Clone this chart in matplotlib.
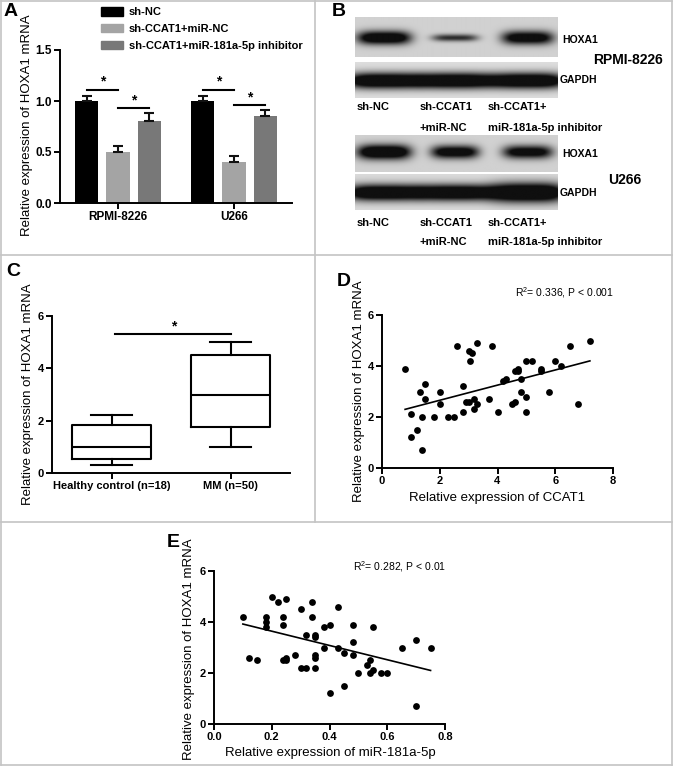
import numpy as np
import matplotlib
matplotlib.use("Agg")
import matplotlib.pyplot as plt
from matplotlib.lines import Line2D
from matplotlib.patches import Patch

plt.rcParams["font.family"] = ["Liberation Sans", "DejaVu Sans"]
plt.rcParams["mathtext.fontset"] = "custom"
plt.rcParams["mathtext.rm"] = "Liberation Sans"
plt.rcParams["axes.linewidth"] = 1.4
plt.rcParams["xtick.major.width"] = 1.4
plt.rcParams["ytick.major.width"] = 1.4
plt.rcParams["xtick.major.size"] = 4
plt.rcParams["ytick.major.size"] = 4

# ---- panel A: qPCR bars ----
a_groups = ["RPMI-8226", "U266"]
a_series = ["sh-NC", "sh-CCAT1+miR-NC", "sh-CCAT1+miR-181a-5p inhibitor"]
a_shnc = [1.00, 1.00]
a_shnc_err = [0.05, 0.05]
a_mirnc = [0.50, 0.40]
a_mirnc_err = [0.055, 0.06]
a_inhib = [0.80, 0.85]
a_inhib_err = [0.08, 0.065]
a_sig_first = [1.11, 1.11]   # sh-NC vs sh-CCAT1+miR-NC
a_sig_second = [0.93, 0.96]  # sh-CCAT1+miR-NC vs inhibitor

# ---- panel B: western blot lanes ----
b_lanes_row1 = ["sh-NC", "sh-CCAT1", "sh-CCAT1+"]
b_lanes_row2 = ["", "+miR-NC", "miR-181a-5p inhibitor"]
b_hoxa1_rpmi = [1.3, 0.8, 1.2]
b_hoxa1_u266 = [1.4, 1.2, 1.15]
b_gapdh_rpmi = [1.4, 1.4, 1.4]
b_gapdh_u266 = [1.4, 1.4, 1.5]

# ---- panel C: box plot ----
c_labels = ["Healthy control (n=18)", "MM (n=50)"]
c_whislo = [0.3, 1.0]
c_q1 = [0.55, 1.75]
c_med = [1.0, 3.0]
c_q3 = [1.85, 4.5]
c_whishi = [2.2, 5.0]
c_sig = 5.3

# ---- panel D: CCAT1 vs HOXA1 ----
d_x = [0.8, 1.0, 1.0, 1.2, 1.3, 1.4, 1.4, 1.5, 1.5, 1.8, 2.0, 2.0, 2.3, 2.5, 2.6,
       2.8, 2.8, 2.9, 3.0, 3.0, 3.06, 3.1, 3.2, 3.2, 3.3, 3.3, 3.7, 3.8, 4.0, 4.2,
       4.3, 4.5, 4.6, 4.6, 4.7, 4.7, 4.8, 4.8, 5.0, 5.0, 5.0, 5.2, 5.5, 5.5, 5.8,
       6.0, 6.2, 6.5, 6.8, 7.2]
d_y = [3.9, 2.1, 1.2, 1.5, 3.0, 2.0, 0.7, 3.3, 2.7, 2.0, 3.0, 2.5, 2.0, 2.0, 4.8,
       3.2, 2.2, 2.6, 4.6, 2.6, 4.2, 4.5, 2.7, 2.3, 2.5, 4.9, 2.7, 4.8, 2.2, 3.4,
       3.5, 2.5, 2.6, 3.8, 3.9, 3.8, 3.5, 3.0, 4.2, 2.8, 2.2, 4.2, 3.9, 3.8, 3.0,
       4.2, 4.0, 4.8, 2.5, 5.0]
d_fit_x = [0.8, 7.2]
d_fit_y = [2.3, 4.2]

# ---- panel E: miR-181a-5p vs HOXA1 ----
e_x = [0.10, 0.12, 0.15, 0.18, 0.18, 0.18, 0.20, 0.22, 0.24, 0.24, 0.24, 0.25, 0.25,
       0.25, 0.28, 0.30, 0.30, 0.32, 0.32, 0.34, 0.34, 0.35, 0.35, 0.35, 0.35, 0.35,
       0.38, 0.38, 0.40, 0.40, 0.43, 0.43, 0.45, 0.45, 0.48, 0.48, 0.48, 0.50, 0.53,
       0.54, 0.54, 0.55, 0.55, 0.58, 0.60, 0.65, 0.70, 0.70, 0.75]
e_y = [4.2, 2.6, 2.5, 4.2, 4.0, 3.8, 5.0, 4.8, 4.2, 3.9, 2.5, 4.9, 2.6,
       2.5, 2.7, 4.5, 2.2, 3.5, 2.2, 4.8, 4.2, 3.5, 3.4, 2.7, 2.6, 2.2,
       3.8, 3.0, 3.9, 1.2, 4.6, 3.0, 2.8, 1.5, 3.9, 3.2, 2.7, 2.0, 2.3,
       2.5, 2.0, 2.1, 3.8, 2.0, 2.0, 3.0, 3.3, 0.7, 3.0]
e_fit_x = [0.10, 0.75]
e_fit_y = [3.92, 2.10]

W, H = 673, 766
fig = plt.figure(figsize=(W / 100, H / 100), dpi=100)


def add_ax(l, t, r, b):
    return fig.add_axes([l / W, 1 - b / H, (r - l) / W, (b - t) / H])


def ftext(x, y, s, **kw):
    fig.text(x / W, 1 - y / H, s, **kw)


def fline(x0, y0, x1, y1):
    fig.add_artist(Line2D([x0 / W, x1 / W], [1 - y0 / H, 1 - y1 / H],
                          transform=fig.transFigure, color="#c4c4c4", lw=1.2))


def style_axes(ax, tick_size):
    for side in ("top", "right"):
        ax.spines[side].set_visible(False)
    ax.tick_params(labelsize=tick_size, pad=2)
    for lab in ax.get_xticklabels() + ax.get_yticklabels():
        lab.set_fontweight("bold")


# panel borders
fline(1, 1, 672, 1)
fline(1, 765, 672, 765)
fline(1, 1, 1, 765)
fline(672, 1, 672, 765)
fline(1, 255, 672, 255)
fline(1, 522, 672, 522)
fline(315, 1, 315, 522)

# panel letters
for letter, x, y in [("A", 4, 3), ("B", 332, 3), ("C", 6, 263), ("D", 337, 273), ("E", 167, 534)]:
    ftext(x, y, letter, fontsize=14, fontweight="bold", va="top", ha="left")

# ---------------- A ----------------
ax = add_ax(60, 50, 292, 203)
xg = np.arange(len(a_groups))
off = 0.27
bw = 0.2
cols = ["#000000", "#a4a4a4", "#787878"]
vals = [a_shnc, a_mirnc, a_inhib]
errs = [a_shnc_err, a_mirnc_err, a_inhib_err]
for i, (v, e, c) in enumerate(zip(vals, errs, cols)):
    pos = xg + (i - 1) * off
    ax.bar(pos, v, bw, color=c, label=a_series[i])
    ax.errorbar(pos, v, yerr=[np.zeros(len(v)), e], fmt="none", ecolor="#111111",
                elinewidth=1.5, capsize=3.5, capthick=1.5)
for g in range(len(a_groups)):
    for (i0, i1, yv) in [(0, 1, a_sig_first[g]), (1, 2, a_sig_second[g])]:
        x0 = g + (i0 - 1) * off
        x1 = g + (i1 - 1) * off
        ax.plot([x0, x1], [yv, yv], color="black", lw=1.5)
        ax.text((x0 + x1) / 2, yv + 0.01, "*", ha="center", va="bottom",
                fontsize=10, fontweight="bold")
ax.set_xlim(-0.5, 1.5)
ax.set_ylim(0, 1.5)
ax.set_yticks([0, 0.5, 1.0, 1.5])
ax.set_yticklabels(["0.0", "0.5", "1.0", "1.5"])
ax.set_xticks(xg)
ax.set_xticklabels(a_groups)
style_axes(ax, 8.5)
ftext(27, 125, "Relative expression of HOXA1 mRNA", rotation=90, fontsize=9.5,
      ha="center", va="center")
handles = [Patch(color=c) for c in cols]
ax.legend(handles, a_series, loc="upper left", bbox_to_anchor=(101 / W, 1 - 7 / H),
          bbox_transform=fig.transFigure, frameon=False, borderpad=0, borderaxespad=0,
          handlelength=2.0, handleheight=0.8, handletextpad=0.5, labelspacing=0.6,
          prop={"size": 8, "weight": "bold"})

# ---------------- B ----------------
lane_c = [0.143, 0.493, 0.852]


def blot(l, t, r, b, strength, half_w, band_y, band_h, bg):
    bax = add_ax(l, t, r, b)
    yy, xx = np.mgrid[0:1:80j, 0:1:400j]
    dark = np.zeros_like(xx)
    for cx, hw, s, hh in zip(lane_c, half_w, strength, band_h):
        dark += s * np.exp(-np.abs((xx - cx) / hw) ** 4) * np.exp(-((yy - band_y) / hh) ** 2)
    img = bg * (1 - np.clip(dark, 0, 0.93))
    bax.imshow(img, cmap="gray", vmin=0, vmax=1, extent=[0, 1, 0, 1],
               origin="upper", aspect="auto", interpolation="bilinear")
    bax.set_axis_off()


blot(355, 17, 558, 57, b_hoxa1_rpmi, [0.133, 0.113, 0.128], 0.52, [0.17, 0.09, 0.17], 0.82)
blot(355, 62, 558, 98, b_gapdh_rpmi, [0.19, 0.19, 0.19], 0.52, [0.22, 0.22, 0.22], 0.87)
blot(355, 135, 558, 172, b_hoxa1_u266, [0.133, 0.118, 0.123], 0.46, [0.20, 0.18, 0.18], 0.82)
blot(355, 174, 558, 210, b_gapdh_u266, [0.19, 0.19, 0.19], 0.53, [0.22, 0.22, 0.26], 0.86)

ftext(562, 40, "HOXA1", fontsize=7.5, fontweight="bold", va="center")
ftext(560, 80, "GAPDH", fontsize=7.5, fontweight="bold", va="center")
ftext(562, 154, "HOXA1", fontsize=7.5, fontweight="bold", va="center")
ftext(560, 193, "GAPDH", fontsize=7.5, fontweight="bold", va="center")
ftext(593, 60, "RPMI-8226", fontsize=10, fontweight="bold", va="center")
ftext(608, 180, "U266", fontsize=10, fontweight="bold", va="center")
lane_x = [357, 420, 488]
for y1, y2 in [(107, 128), (223, 242)]:
    for lx, s1, s2 in zip(lane_x, b_lanes_row1, b_lanes_row2):
        ftext(lx, y1, s1, fontsize=8, fontweight="bold", va="center")
        if s2:
            ftext(lx, y2, s2, fontsize=8, fontweight="bold", va="center")

# ---------------- C ----------------
ax = add_ax(52, 316, 290, 473)
stats = [dict(whislo=lo, q1=a, med=m, q3=b, whishi=hi, label=lab)
         for lo, a, m, b, hi, lab in zip(c_whislo, c_q1, c_med, c_q3, c_whishi, c_labels)]
lp = dict(color="black", lw=1.5)
ax.bxp(stats, positions=[0, 1], widths=0.67, capwidths=0.34, showfliers=False,
       boxprops=lp, whiskerprops=lp, capprops=lp, medianprops=lp)
ax.plot([0.03, 1.0], [c_sig, c_sig], color="black", lw=1.5)
ax.text(0.52, c_sig + 0.05, "*", ha="center", va="bottom", fontsize=10, fontweight="bold")
ax.set_xlim(-0.5, 1.5)
ax.set_ylim(0, 6)
ax.set_yticks([0, 2, 4, 6])
style_axes(ax, 8)
ftext(28, 394, "Relative expression of HOXA1 mRNA", rotation=90, fontsize=9.5,
      ha="center", va="center")

# ---------------- D ----------------
ax = add_ax(382, 315, 613, 468)
ax.scatter(d_x, d_y, s=24, color="black", zorder=3, linewidths=0)
ax.plot(d_fit_x, d_fit_y, color="black", lw=1.2)
ax.set_xlim(0, 8)
ax.set_ylim(0, 6)
ax.set_xticks([0, 2, 4, 6, 8])
ax.set_yticks([0, 2, 4, 6])
style_axes(ax, 8)
ftext(359, 391, "Relative expression of HOXA1 mRNA", rotation=90, fontsize=9.5,
      ha="center", va="center")
ftext(497, 498, "Relative expression of CCAT1", fontsize=9.5, ha="center", va="center")
ftext(515, 293, r"R$^2$= 0.336, P < 0.001", fontsize=7.5, va="center")

# ---------------- E ----------------
ax = add_ax(214, 571, 445, 724)
ax.scatter(e_x, e_y, s=24, color="black", zorder=3, linewidths=0)
ax.plot(e_fit_x, e_fit_y, color="black", lw=1.2)
ax.set_xlim(0, 0.8)
ax.set_ylim(0, 6)
ax.set_xticks([0, 0.2, 0.4, 0.6, 0.8])
ax.set_xticklabels(["0.0", "0.2", "0.4", "0.6", "0.8"])
ax.set_yticks([0, 2, 4, 6])
style_axes(ax, 8)
ftext(189, 649, "Relative expression of HOXA1 mRNA", rotation=90, fontsize=9.5,
      ha="center", va="center")
ftext(330, 753, "Relative expression of miR-181a-5p", fontsize=9.5, ha="center", va="center")
ftext(353, 567, r"R$^2$= 0.282, P < 0.01", fontsize=7.5, va="center")

fig.savefig("out.png", dpi=100)
